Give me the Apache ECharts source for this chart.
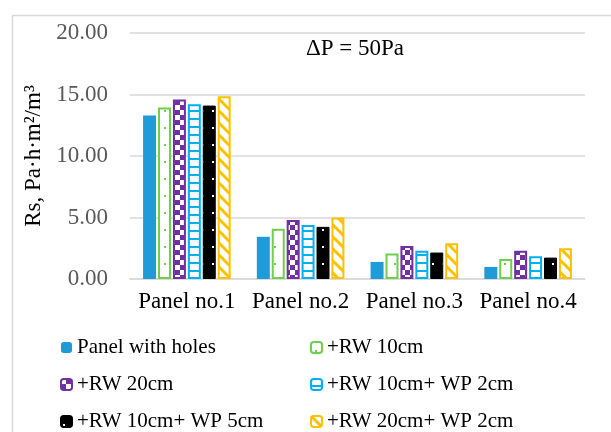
<!DOCTYPE html>
<html>
<head>
<meta charset="utf-8">
<script src="https://cdn.jsdelivr.net/npm/echarts@6/dist/echarts.min.js"></script>
<style>
  html, body { margin: 0; padding: 0; background: #fff; }
  #chart { width: 611px; height: 432px; }
</style>
</head>
<body>
<div id="chart"></div>
<script>
// categories and values (Rs, Pa·h·m²/m³ at ΔP = 50Pa)
const panels = ['Panel no.1', 'Panel no.2', 'Panel no.3', 'Panel no.4']
const seriesNames = ['Panel with holes', '+RW 10cm', '+RW 20cm', '+RW 10cm+ WP 2cm', '+RW 10cm+ WP 5cm', '+RW 20cm+ WP 2cm']
const withHoles = [13.3, 3.43, 1.39, 0.98]
const rw10 = [13.95, 4.08, 2.07, 1.63]
const rw20 = [14.6, 4.8, 2.69, 2.29]
const rw10wp2 = [14.2, 4.4, 2.29, 1.85]
const rw10wp5 = [14.1, 4.24, 2.15, 1.74]
const rw20wp2 = [14.86, 5.0, 2.91, 2.5]
const yTicks = [0, 5, 10, 15, 20]

const FONT = '"Liberation Serif", "Times New Roman", serif'

function makePattern(w, h, draw) {
  const c = document.createElement('canvas')
  c.width = w; c.height = h
  draw(c.getContext('2d'))
  return { image: c, repeat: 'repeat' }
}

// fill patterns, roughly like Excel's
const dotsGreen = makePattern(10, 17, g => {
  g.fillStyle = '#fff'; g.fillRect(0, 0, 10, 17)
  g.fillStyle = '#6fcf4b'; g.fillRect(4, 8, 2, 2)
})
const checkPurple = makePattern(10, 10, g => {
  g.fillStyle = '#7030a0'; g.fillRect(0, 0, 10, 10)
  g.fillStyle = '#fff'; g.fillRect(0, 0, 5, 5); g.fillRect(5, 5, 5, 5)
})
const ladderCyan = makePattern(10, 8, g => {
  g.fillStyle = '#fff'; g.fillRect(0, 0, 10, 8)
  g.fillStyle = '#00b0f0'; g.fillRect(0, 6, 10, 2)
})
const dotsBlack = makePattern(10, 17, g => {
  g.fillStyle = '#000'; g.fillRect(0, 0, 10, 17)
  g.fillStyle = '#fff'; g.fillRect(2, 8, 2, 2)
})
const stripesYellow = makePattern(12, 12, g => {
  g.fillStyle = '#fff'; g.fillRect(0, 0, 12, 12)
  g.strokeStyle = '#ffc000'; g.lineWidth = 3
  g.beginPath()
  g.moveTo(-3, -3); g.lineTo(15, 15)
  g.moveTo(-15, -3); g.lineTo(3, 15)
  g.moveTo(9, -3); g.lineTo(27, 15)
  g.stroke()
})

const styles = [
  { color: '#1f9bd7' },
  { color: dotsGreen, borderColor: '#6fcf4b', borderWidth: 2 },
  { color: checkPurple, borderColor: '#7030a0', borderWidth: 2 },
  { color: ladderCyan, borderColor: '#00b0f0', borderWidth: 2 },
  { color: dotsBlack, borderColor: '#000', borderWidth: 1 },
  { color: stripesYellow, borderColor: '#ffc000', borderWidth: 2 },
]
const values = [withHoles, rw10, rw20, rw10wp2, rw10wp5, rw20wp2]

const chart = echarts.init(document.getElementById('chart'), null, { renderer: 'canvas' })

const legendText = { fontFamily: FONT, fontSize: 21, color: '#000' }
const legendBase = { orient: 'vertical', top: 337, height: 160, itemGap: 16,
  itemWidth: 11, itemHeight: 11, textStyle: legendText, padding: 0 }

chart.setOption({
  animation: false,
  graphic: [
    { type: 'rect', left: 10, top: 13, shape: { width: 640, height: 460 },
      style: { fill: 'none', stroke: '#d9d9d9', lineWidth: 1.5 }, silent: true },
    { type: 'text', left: 306, top: 37,
      style: { text: 'ΔP = 50Pa', font: '23px ' + FONT, fill: '#000' } },
  ],
  grid: { left: 130, right: 26, top: 33, bottom: 153 },
  legend: [
    Object.assign({ left: 60, data: [seriesNames[0], seriesNames[2], seriesNames[4]] }, legendBase),
    Object.assign({ left: 310, data: [seriesNames[1], seriesNames[3], seriesNames[5]] }, legendBase),
  ],
  xAxis: {
    type: 'category',
    data: panels,
    axisTick: { show: false },
    axisLine: { lineStyle: { color: '#d9d9d9', width: 1.5 } },
    axisLabel: { fontFamily: FONT, fontSize: 23, color: '#000', margin: 11, interval: 0 },
  },
  yAxis: {
    type: 'value',
    min: 0, max: 20, interval: 5,
    name: 'Rs, Pa·h·m²/m³',
    nameLocation: 'middle',
    nameGap: 82,
    nameTextStyle: { fontFamily: FONT, fontSize: 23, color: '#000' },
    axisLabel: { fontFamily: FONT, fontSize: 23, color: '#595959', margin: 22,
      formatter: v => yTicks.includes(v) ? v.toFixed(2) : '' },
    splitLine: { lineStyle: { color: '#d9d9d9', width: 1.5 } },
  },
  series: seriesNames.map((name, i) => ({
    name,
    type: 'bar',
    data: values[i],
    barGap: '15%',
    barCategoryGap: '23%',
    itemStyle: styles[i],
  })),
})
</script>
</body>
</html>
